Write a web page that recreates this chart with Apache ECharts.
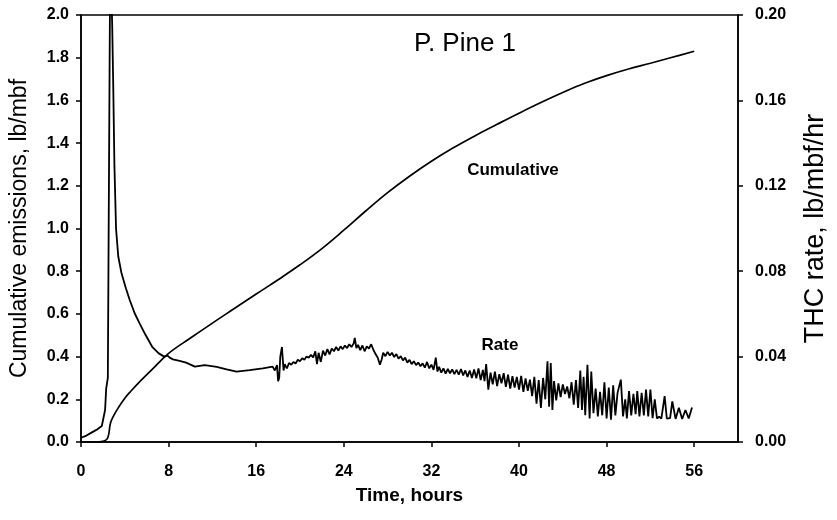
<!DOCTYPE html>
<html>
<head>
<meta charset="utf-8">
<script src="https://cdn.jsdelivr.net/npm/echarts@6/dist/echarts.min.js"></script>
<style>
  html, body { margin: 0; padding: 0; background: #fff; }
  #chart { width: 837px; height: 520px; }
</style>
</head>
<body>
<div id="chart"></div>
<script>
// cumulative emissions, lb/mbf  [hours, value]
const cumulativeData = [
  [0, 0], [1.5, 0], [2.1, 0.004], [2.45, 0.02], [2.7, 0.09], [3.0, 0.125], [3.4, 0.16],
  [4.0, 0.205], [4.5, 0.235], [5.5, 0.29], [6.5, 0.34], [8, 0.415], [10, 0.487],
  [12, 0.557], [14, 0.625], [16, 0.693], [18, 0.76], [20, 0.83], [22, 0.906],
  [24, 0.992], [26, 1.082], [28, 1.168], [30, 1.245], [32, 1.315], [34, 1.378],
  [36, 1.435], [38, 1.488], [40, 1.54], [42, 1.59], [44, 1.637], [46, 1.68],
  [48, 1.716], [50, 1.747], [52, 1.774], [54, 1.802], [56, 1.83]
];

// THC rate, lb/mbf/hr  [hours, value]
const rateRise = [
  [0, 0.002], [0.5, 0.003], [1.0, 0.0045], [1.5, 0.006], [1.9, 0.0075], [2.2, 0.015],
  [2.3, 0.025], [2.45, 0.03], [2.55, 0.12], [2.65, 0.21], [2.75, 0.215], [2.85, 0.195],
  [2.95, 0.165], [3.05, 0.13], [3.2, 0.1]
];
const rateDecay = [
  [3.4, 0.087], [3.7, 0.079], [4.1, 0.072], [4.45, 0.0665], [4.9, 0.0603], [5.35, 0.0556],
  [5.9, 0.0501], [6.5, 0.0446], [7.1, 0.0415], [7.6, 0.040], [7.9, 0.0405], [8.1, 0.0395],
  [8.4, 0.0387], [9.0, 0.038], [9.6, 0.0372], [10.4, 0.0353], [11.3, 0.036], [12.4, 0.0352],
  [13.3, 0.034], [14.2, 0.033], [15.4, 0.0337], [16.6, 0.0345], [17.5, 0.0353]
];
const rateNoiseA = [
  [17.7, 0.0335], [17.9, 0.036], [18.0, 0.0285], [18.1, 0.030], [18.2, 0.040], [18.35, 0.0445],
  [18.5, 0.0335], [18.6, 0.0365], [18.8, 0.0345], [19.0, 0.037], [19.2, 0.0362], [19.4, 0.0375],
  [19.6, 0.0368], [19.8, 0.0385], [20.0, 0.0378], [20.2, 0.0392], [20.4, 0.0385], [20.6, 0.040],
  [20.8, 0.0395], [21.0, 0.0408], [21.2, 0.0396], [21.4, 0.0425], [21.55, 0.0365], [21.7, 0.0418],
  [21.9, 0.0375], [22.1, 0.0428], [22.3, 0.0405], [22.5, 0.0435], [22.7, 0.041], [22.9, 0.0438],
  [23.1, 0.0425], [23.3, 0.0445], [23.5, 0.0428], [23.7, 0.0448], [23.9, 0.0435], [24.1, 0.0452],
  [24.3, 0.044], [24.5, 0.0458], [24.7, 0.0445], [24.9, 0.0462], [25.0, 0.0488], [25.15, 0.044],
  [25.3, 0.0455], [25.5, 0.043], [25.7, 0.0452], [25.9, 0.0425], [26.1, 0.0448], [26.3, 0.0438],
  [26.5, 0.0458], [26.7, 0.0432], [26.9, 0.0412], [27.1, 0.0395], [27.3, 0.0362], [27.45, 0.0385],
  [27.6, 0.0418], [27.8, 0.0402], [28.0, 0.0422], [28.2, 0.0405], [28.4, 0.0418], [28.6, 0.0398],
  [28.8, 0.0412], [29.0, 0.039], [29.2, 0.0402], [29.4, 0.0382], [29.6, 0.0395], [29.8, 0.0372],
  [30.0, 0.0385], [30.2, 0.0365], [30.4, 0.0378], [30.6, 0.036], [30.8, 0.0372], [31.0, 0.0355],
  [31.2, 0.0368], [31.4, 0.0348], [31.6, 0.0375], [31.8, 0.0345], [32.0, 0.0362], [32.2, 0.0338],
  [32.4, 0.0395], [32.55, 0.033], [32.7, 0.0352], [32.9, 0.0325], [33.1, 0.0345], [33.3, 0.032],
  [33.5, 0.0342], [33.7, 0.0322], [33.9, 0.034], [34.1, 0.0318], [34.3, 0.0338], [34.5, 0.0315],
  [34.7, 0.0342], [34.9, 0.0312], [35.1, 0.0335], [35.3, 0.0305], [35.5, 0.0335], [35.7, 0.030],
  [35.9, 0.034], [36.1, 0.0298], [36.3, 0.0345], [36.5, 0.029], [36.7, 0.0338], [36.85, 0.0285]
];
const rateNoiseB = [
  [37.0, 0.0365], [37.2, 0.0245], [37.4, 0.0325], [37.6, 0.027], [37.8, 0.033], [38.0, 0.0262],
  [38.2, 0.0318], [38.4, 0.0275], [38.6, 0.0322], [38.8, 0.0258], [39.0, 0.0315], [39.2, 0.025],
  [39.4, 0.0308], [39.6, 0.0255], [39.8, 0.0305], [40.0, 0.0245], [40.2, 0.031], [40.4, 0.0235],
  [40.6, 0.0298], [40.8, 0.024], [41.0, 0.0292], [41.2, 0.0215], [41.4, 0.0305], [41.6, 0.018],
  [41.8, 0.029], [42.0, 0.016], [42.2, 0.030], [42.4, 0.020], [42.6, 0.0378], [42.75, 0.0165],
  [42.9, 0.037], [43.05, 0.015], [43.2, 0.0285], [43.4, 0.0195], [43.6, 0.0275], [43.8, 0.021],
  [44.0, 0.027], [44.2, 0.0225], [44.4, 0.026], [44.6, 0.0205], [44.8, 0.028], [45.0, 0.0175],
  [45.2, 0.029], [45.4, 0.016], [45.6, 0.0335], [45.75, 0.015], [45.9, 0.0305], [46.05, 0.0125],
  [46.25, 0.0362], [46.45, 0.011], [46.6, 0.033], [46.8, 0.0135], [47.0, 0.025], [47.2, 0.012],
  [47.4, 0.0235], [47.6, 0.0125], [47.8, 0.028], [48.0, 0.011], [48.2, 0.0255], [48.4, 0.0105],
  [48.6, 0.0265], [48.8, 0.0125], [49.0, 0.023], [49.3, 0.0292], [49.5, 0.012], [49.7, 0.020],
  [49.85, 0.011], [50.05, 0.0238], [50.25, 0.0125], [50.45, 0.0225], [50.65, 0.013], [50.8, 0.0238],
  [51.0, 0.012], [51.2, 0.023], [51.4, 0.0125], [51.6, 0.0245], [51.8, 0.012], [52.0, 0.0245],
  [52.2, 0.0112], [52.4, 0.020], [52.6, 0.011], [52.8, 0.0118], [53.0, 0.011], [53.3, 0.0215],
  [53.5, 0.011], [53.8, 0.0112], [54.0, 0.019], [54.3, 0.0108], [54.6, 0.016], [54.9, 0.0108],
  [55.2, 0.015], [55.5, 0.011], [55.8, 0.0162]
];

const xTicks = { min: 0, max: 60, interval: 8 };
const leftTicks = { min: 0, max: 2, interval: 0.2 };
const rightTicks = { min: 0, max: 0.2, interval: 0.04 };

const rateData = rateRise.concat(rateDecay, rateNoiseA, rateNoiseB);

let chartDom = document.getElementById('chart');
let myChart = echarts.init(chartDom);

const tickFont = { color: '#000', fontFamily: 'Arial, Liberation Sans', fontWeight: 'bold', fontSize: 16 };
const axisLine = { show: true, lineStyle: { color: '#000', width: 1.5 } };
const axisTick = { show: true, length: 5, lineStyle: { color: '#000', width: 1.5 } };

let option = {
  animation: false,
  backgroundColor: '#fff',
  grid: {
    left: 80, right: 82, top: 15, bottom: 78,
    show: true, borderColor: '#000', borderWidth: 1.5
  },
  xAxis: {
    type: 'value',
    min: xTicks.min, max: xTicks.max, interval: xTicks.interval,
    name: 'Time, hours',
    nameLocation: 'middle',
    nameGap: 44,
    nameTextStyle: { color: '#000', fontFamily: 'Arial, Liberation Sans', fontWeight: 'bold', fontSize: 19 },
    axisLine: axisLine, axisTick: axisTick,
    axisLabel: Object.assign({ margin: 22, showMaxLabel: false }, tickFont),
    splitLine: { show: false }
  },
  yAxis: [
    {
      type: 'value', position: 'left',
      min: leftTicks.min, max: leftTicks.max, interval: leftTicks.interval,
      name: 'Cumulative emissions, lb/mbf',
      nameLocation: 'middle',
      nameGap: 50,
      nameTextStyle: { color: '#000', fontFamily: 'Arial, Liberation Sans', fontSize: 23 },
      axisLine: axisLine, axisTick: axisTick,
      axisLabel: Object.assign({ margin: 12, formatter: v => v.toFixed(1) }, tickFont),
      splitLine: { show: false }
    },
    {
      type: 'value', position: 'right',
      min: rightTicks.min, max: rightTicks.max, interval: rightTicks.interval,
      name: 'THC rate, lb/mbf/hr',
      nameLocation: 'middle',
      nameGap: 64,
      nameTextStyle: { color: '#000', fontFamily: 'Arial, Liberation Sans', fontSize: 27 },
      axisLine: axisLine, axisTick: axisTick,
      axisLabel: Object.assign({ margin: 17, formatter: v => v.toFixed(2) }, tickFont),
      splitLine: { show: false }
    }
  ],
  graphic: [
    { type: 'text', x: 465, y: 44, style: { text: 'P. Pine 1', fill: '#000', font: '26px Arial, Liberation Sans', textAlign: 'center', textVerticalAlign: 'middle' } },
    { type: 'text', x: 513, y: 170, style: { text: 'Cumulative', fill: '#000', font: 'bold 17px Arial, Liberation Sans', textAlign: 'center', textVerticalAlign: 'middle' } },
    { type: 'text', x: 500, y: 345, style: { text: 'Rate', fill: '#000', font: 'bold 17px Arial, Liberation Sans', textAlign: 'center', textVerticalAlign: 'middle' } }
  ],
  series: [
    {
      name: 'Cumulative',
      type: 'line',
      yAxisIndex: 0,
      data: cumulativeData,
      smooth: 0.4,
      showSymbol: false,
      lineStyle: { color: '#000', width: 1.7 }
    },
    {
      name: 'Rate',
      type: 'line',
      yAxisIndex: 1,
      data: rateData,
      showSymbol: false,
      clip: true,
      lineStyle: { color: '#000', width: 1.8 }
    }
  ]
};
option && myChart.setOption(option);
</script>
</body>
</html>
